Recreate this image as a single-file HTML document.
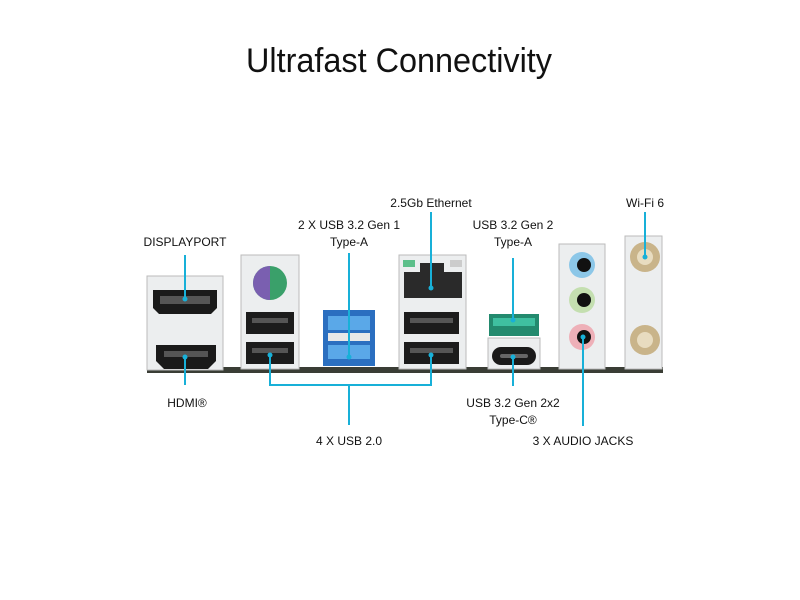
<!DOCTYPE html>
<html><head><meta charset="utf-8"><style>
html,body{margin:0;padding:0;background:#fff;width:800px;height:600px;overflow:hidden}
</style></head><body>
<svg width="800" height="600" viewBox="0 0 800 600" xmlns="http://www.w3.org/2000/svg" font-family="Liberation Sans, sans-serif">
<rect width="800" height="600" fill="#fff"/>
<text x="399" y="72" font-size="34" text-anchor="middle" textLength="306" lengthAdjust="spacingAndGlyphs" fill="#111">Ultrafast Connectivity</text>

<!-- board strip -->
<rect x="147" y="367" width="516" height="6" fill="#3a3d35"/>

<!-- DP/HDMI bracket -->
<rect x="147" y="276" width="76" height="94" fill="#eceeef" stroke="#bbb"/>
<path d="M153 290 h64 v18 l-6 6 h-52 l-6 -6z" fill="#1a1a1a"/>
<rect x="160" y="296" width="50" height="8" fill="#555"/>
<path d="M156 345 h60 v16 l-8 8 h-44 l-8 -8z" fill="#1a1a1a"/>
<rect x="164" y="351" width="44" height="6" fill="#555"/>

<!-- PS2 + USB -->
<rect x="241" y="255" width="58" height="114" fill="#eceeef" stroke="#bbb"/>
<circle cx="270" cy="283" r="17" fill="#3aa06a"/>
<path d="M270 266 a17 17 0 0 0 0 34z" fill="#7a5fb0"/>
<rect x="246" y="312" width="48" height="22" fill="#1c1c1c"/>
<rect x="252" y="318" width="36" height="5" fill="#555"/>
<rect x="246" y="342" width="48" height="22" fill="#1c1c1c"/>
<rect x="252" y="348" width="36" height="5" fill="#555"/>

<!-- Blue USB -->
<rect x="323" y="310" width="52" height="56" fill="#2b6fc0"/>
<rect x="328" y="316" width="42" height="14" fill="#5aa8e8"/>
<rect x="328" y="333" width="42" height="8" fill="#e8e8e8"/>
<rect x="328" y="345" width="42" height="14" fill="#5aa8e8"/>

<!-- Ethernet + USB -->
<rect x="399" y="255" width="67" height="114" fill="#eceeef" stroke="#bbb"/>
<rect x="403" y="260" width="12" height="7" fill="#5cbf8a"/>
<rect x="450" y="260" width="12" height="7" fill="#ccc"/>
<path d="M404 272 h58 v26 h-58z" fill="#2a2a2a"/>
<rect x="420" y="263" width="24" height="10" fill="#2a2a2a"/>
<rect x="404" y="312" width="55" height="22" fill="#1c1c1c"/>
<rect x="410" y="318" width="43" height="5" fill="#555"/>
<rect x="404" y="342" width="55" height="22" fill="#1c1c1c"/>
<rect x="410" y="348" width="43" height="5" fill="#555"/>

<!-- Green USB + Type-C -->
<rect x="488" y="338" width="52" height="31" fill="#eceeef" stroke="#bbb"/>
<rect x="489" y="314" width="50" height="22" fill="#238a6e"/>
<rect x="493" y="318" width="42" height="8" fill="#3fc0a0"/>
<rect x="492" y="347" width="44" height="18" rx="9" fill="#1a1a1a"/>
<rect x="500" y="354" width="28" height="4" rx="2" fill="#666"/>

<!-- Audio -->
<rect x="559" y="244" width="46" height="125" fill="#eceeef" stroke="#bbb"/>
<circle cx="582" cy="265" r="13" fill="#8cc7e8"/><circle cx="584" cy="265" r="7" fill="#111"/>
<circle cx="582" cy="300" r="13" fill="#c4dfb0"/><circle cx="584" cy="300" r="7" fill="#111"/>
<circle cx="582" cy="337" r="13" fill="#eeb0b8"/><circle cx="584" cy="337" r="7" fill="#111"/>

<!-- Wifi -->
<rect x="625" y="236" width="37" height="133" fill="#eceeef" stroke="#bbb"/>
<circle cx="645" cy="257" r="15" fill="#c9b48a"/><circle cx="645" cy="257" r="8" fill="#e8dcc0"/>
<circle cx="645" cy="340" r="15" fill="#c9b48a"/><circle cx="645" cy="340" r="8" fill="#e8dcc0"/>

<!-- connectors -->
<g stroke="#18b0d8" stroke-width="2" fill="none">
<path d="M185 255 V299"/>
<path d="M185 357 V385"/>
<path d="M349 253 V357"/>
<path d="M431 212 V288"/>
<path d="M513 258 V320"/>
<path d="M645 212 V257"/>
<path d="M270 355 V385 H431 V355"/>
<path d="M349 385 V425"/>
<path d="M513 357 V386"/>
<path d="M583 337 V426"/>
</g>
<g fill="#18b0d8">
<circle cx="185" cy="299" r="2.5"/><circle cx="185" cy="357" r="2.5"/>
<circle cx="349" cy="357" r="2.5"/><circle cx="431" cy="288" r="2.5"/>
<circle cx="513" cy="320" r="2.5"/><circle cx="645" cy="257" r="2.5"/>
<circle cx="270" cy="355" r="2.5"/><circle cx="431" cy="355" r="2.5"/>
<circle cx="513" cy="357" r="2.5"/><circle cx="583" cy="337" r="2.5"/>
</g>

<g font-size="12" fill="#111" text-anchor="middle">
<text x="185" y="246">DISPLAYPORT</text>
<text x="349" y="229">2 X USB 3.2 Gen 1</text>
<text x="349" y="246">Type-A</text>
<text x="431" y="207">2.5Gb Ethernet</text>
<text x="513" y="229">USB 3.2 Gen 2</text>
<text x="513" y="246">Type-A</text>
<text x="645" y="207">Wi-Fi 6</text>
<text x="187" y="407">HDMI®</text>
<text x="349" y="445">4 X USB 2.0</text>
<text x="513" y="407">USB 3.2 Gen 2x2</text>
<text x="513" y="424">Type-C®</text>
<text x="583" y="445">3 X AUDIO JACKS</text>
</g>
</svg>
</body></html>
